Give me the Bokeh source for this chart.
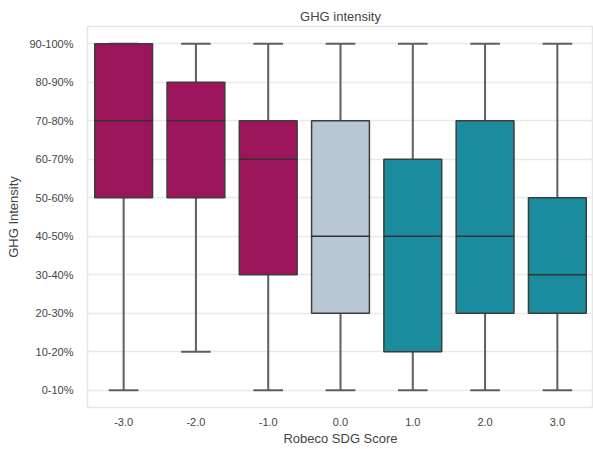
from bokeh.plotting import figure
from bokeh.models import ColumnDataSource, FixedTicker
from bokeh.embed import file_html
from bokeh.resources import INLINE

# ---- data ----
scores = [-3.0, -2.0, -1.0, 0.0, 1.0, 2.0, 3.0]
intensity_labels = ["0-10%", "10-20%", "20-30%", "30-40%", "40-50%",
                    "50-60%", "60-70%", "70-80%", "80-90%", "90-100%"]
# values as indices into intensity_labels
whisker_low = [0, 1, 0, 0, 0, 0, 0]
q1 = [5, 5, 3, 2, 1, 2, 2]
median = [7, 7, 6, 4, 4, 4, 3]
q3 = [9, 8, 7, 7, 6, 7, 5]
whisker_high = [9, 9, 9, 9, 9, 9, 9]

# ---- styling ----
NEG, ZERO, POS = "#9c1459", "#b9c6d3", "#1a8c9e"
def color_for(s):
    return NEG if s < 0 else (ZERO if s == 0 else POS)

xs = list(range(len(scores)))
box_w = 0.8
cap_w = 0.41
src = ColumnDataSource(dict(
    x=xs, q1=q1, q3=q3, med=median, lo=whisker_low, hi=whisker_high,
    color=[color_for(s) for s in scores],
    ml=[x - box_w / 2 for x in xs], mr=[x + box_w / 2 for x in xs],
    cl=[x - cap_w / 2 for x in xs], cr=[x + cap_w / 2 for x in xs],
))

FONT = "Liberation Sans"
p = figure(width=593, height=449, frame_width=506, frame_height=381,
           x_range=(-0.5, 6.5), y_range=(-0.45, 9.45),
           output_backend="svg", toolbar_location=None,
           min_border_left=87, min_border_right=0, min_border_top=26,
           min_border_bottom=42, title="GHG intensity")
p.title.align = "center"
p.title.text_font = FONT
p.title.text_font_size = "13px"
p.title.text_font_style = "normal"
p.title.text_color = "#444444"
p.title.offset = 0
p.title.standoff = 5

p.outline_line_color = "#e6e6e6"
p.outline_line_width = 1.5
p.background_fill_color = "white"
p.border_fill_color = "white"

# whiskers
wcol = "#5f5f5f"
p.segment(x0="x", y0="lo", x1="x", y1="q1", source=src, line_color=wcol, line_width=2)
p.segment(x0="x", y0="q3", x1="x", y1="hi", source=src, line_color=wcol, line_width=2)
p.segment(x0="cl", y0="lo", x1="cr", y1="lo", source=src, line_color=wcol, line_width=2)
p.segment(x0="cl", y0="hi", x1="cr", y1="hi", source=src, line_color=wcol, line_width=2)
# boxes
p.vbar(x="x", width=box_w, bottom="q1", top="q3", source=src,
       fill_color="color", line_color="#3d3d3d", line_width=1.5)
# medians
p.segment(x0="ml", y0="med", x1="mr", y1="med", source=src,
          line_color="#333333", line_width=1.5)

# axes
p.xaxis.ticker = FixedTicker(ticks=xs)
p.xaxis.major_label_overrides = {i: f"{s:.1f}" for i, s in enumerate(scores)}
p.yaxis.ticker = FixedTicker(ticks=list(range(len(intensity_labels))))
p.yaxis.major_label_overrides = {i: l for i, l in enumerate(intensity_labels)}
p.xaxis.axis_label = "Robeco SDG Score"
p.yaxis.axis_label = "GHG Intensity"
for ax in (p.xaxis, p.yaxis):
    ax.axis_line_color = None
    ax.major_tick_line_color = None
    ax.minor_tick_line_color = None
    ax.major_tick_out = 0
    ax.major_tick_in = 0
    ax.minor_tick_out = 0
    ax.minor_tick_in = 0
    ax.major_label_text_font = FONT
    ax.major_label_text_font_size = "11px"
    ax.major_label_text_color = "#444444"
    ax.axis_label_text_font = FONT
    ax.axis_label_text_font_size = "13px"
    ax.axis_label_text_font_style = "normal"
    ax.axis_label_text_color = "#444444"
p.xaxis.major_label_standoff = 10
p.xaxis.axis_label_standoff = 2
p.yaxis.major_label_standoff = 14
p.yaxis.axis_label_standoff = 5

p.xgrid.grid_line_color = None
p.ygrid.grid_line_color = "#e9e9e9"
p.ygrid.grid_line_width = 1.5

open("out.html", "w").write(file_html(p, INLINE))
